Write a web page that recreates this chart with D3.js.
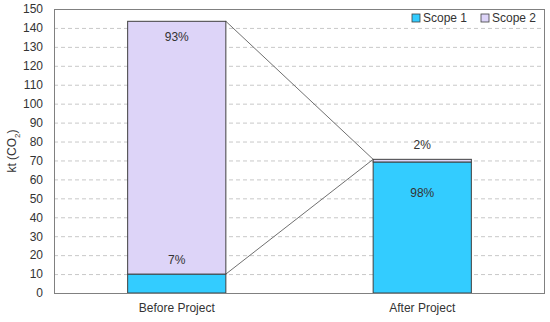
<!DOCTYPE html>
<html><head><meta charset="utf-8">
<script src="https://cdn.jsdelivr.net/npm/d3@7"></script>
<style>body{margin:0;background:#fff}svg{display:block}text{font-family:"Liberation Sans",Arial,sans-serif}</style>
</head><body><svg id="c" width="550" height="322"></svg>
<script>
const categories = ["Before Project", "After Project"];
const scope1 = [10.0, 69.2];
const scope2 = [133.5, 1.4];
const yTicks = d3.range(0, 151, 10);
const series = ["Scope 1", "Scope 2"];
const colors = ["#33CCFF", "#DDD4F8"];

const W = 550, H = 322;
const m = {l: 54, r: 5, t: 9, b: 29};
const svg = d3.select("#c");
const x = d3.scaleBand().domain(categories).range([m.l, W - m.r]).paddingInner(0.6).paddingOuter(0.3);
const y = d3.scaleLinear().domain([0, 150]).range([H - m.b, m.t]);

// grid
svg.append("g").selectAll("line").data(yTicks.filter(t => t > 0 && t < 150)).join("line")
  .attr("x1", m.l).attr("x2", W - m.r).attr("y1", d => y(d) + 0.5).attr("y2", d => y(d) + 0.5)
  .attr("stroke", "#c8c8c8").attr("stroke-dasharray", "4,3");

// y axis labels
const ya = svg.append("g").attr("transform", `translate(${m.l},0)`)
  .call(d3.axisLeft(y).tickValues(yTicks).tickSize(0).tickPadding(11));
ya.select(".domain").remove();
ya.selectAll("text").attr("font-size", 12).attr("fill", "#333").attr("font-family", "Liberation Sans, Arial, sans-serif");

// x axis labels
const xa = svg.append("g").attr("transform", `translate(0,${H - m.b})`)
  .call(d3.axisBottom(x).tickSize(0).tickPadding(10));
xa.select(".domain").remove();
xa.selectAll("text").attr("font-size", 12).attr("fill", "#333").attr("font-family", "Liberation Sans, Arial, sans-serif");

// connecting lines
const bx0 = x(categories[0]) + x.bandwidth(), ax0 = x(categories[1]);
const afterTop = y(scope1[1] + scope2[1]);
svg.append("line").attr("x1", bx0).attr("y1", y(scope1[0] + scope2[0])).attr("x2", ax0).attr("y2", afterTop)
  .attr("stroke", "#707070").attr("stroke-width", 1);
svg.append("line").attr("x1", bx0).attr("y1", y(scope1[0])).attr("x2", ax0).attr("y2", afterTop)
  .attr("stroke", "#707070").attr("stroke-width", 1);

// bars
const data = categories.map((c, i) => ({c, s1: scope1[i], s2: scope2[i]}));
const g = svg.append("g");
data.forEach(d => {
  g.append("rect").attr("x", x(d.c)).attr("width", x.bandwidth())
    .attr("y", y(d.s1)).attr("height", y(0) - y(d.s1))
    .attr("fill", colors[0]).attr("stroke", "#404040").attr("stroke-width", 1);
  g.append("rect").attr("x", x(d.c)).attr("width", x.bandwidth())
    .attr("y", y(d.s1 + d.s2)).attr("height", y(d.s1) - y(d.s1 + d.s2))
    .attr("fill", colors[1]).attr("stroke", "#404040").attr("stroke-width", 1);
});

// percentage labels
const lab = (t, cx, cy) => svg.append("text").attr("x", cx).attr("y", cy).attr("text-anchor", "middle")
  .attr("dominant-baseline", "middle").attr("font-size", 12).attr("fill", "#333").text(t);
const c0 = x(categories[0]) + x.bandwidth() / 2, c1 = x(categories[1]) + x.bandwidth() / 2;
const pct = (v, t) => Math.round(v / t * 100) + "%";
const t0 = scope1[0] + scope2[0], t1 = scope1[1] + scope2[1];
lab(pct(scope2[0], t0), c0, y(t0) + 17);
lab(pct(scope1[0], t0), c0, y(scope1[0]) - 13);
lab(pct(scope2[1], t1), c1, y(t1) - 14);
lab(pct(scope1[1], t1), c1, y(scope1[1]) + 32);

// frame
svg.append("rect").attr("x", m.l + 0.5).attr("y", m.t + 0.5).attr("width", W - m.r - m.l - 1).attr("height", H - m.b - m.t)
  .attr("fill", "none").attr("stroke", "#808080").attr("stroke-width", 1);

// y label
svg.append("text").attr("transform", `translate(13,${(m.t + H - m.b) / 2}) rotate(-90)`)
  .attr("text-anchor", "middle").attr("dominant-baseline", "middle").attr("font-size", 12).attr("fill", "#333")
  .html('kt (CO<tspan baseline-shift="sub" font-size="8">2</tspan>)');

// legend
const lg = svg.append("g");
const lx = [412, 481];
series.forEach((s, i) => {
  lg.append("rect").attr("x", lx[i]).attr("y", 14).attr("width", 8).attr("height", 8)
    .attr("fill", colors[i]).attr("stroke", "#404040").attr("stroke-width", 0.8);
  lg.append("text").attr("x", lx[i] + 11).attr("y", 18.5).attr("dominant-baseline", "middle")
    .attr("font-size", 12).attr("fill", "#333").text(s);
});
</script></body></html>
